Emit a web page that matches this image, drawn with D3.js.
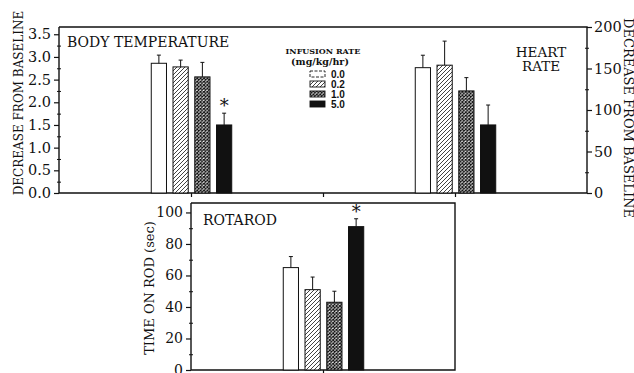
<!DOCTYPE html>
<html>
<head>
<meta charset="utf-8">
<script src="https://cdn.jsdelivr.net/npm/d3@7"></script>
<style>
  body { margin: 0; background: #fff; }
  svg { display: block; }
  text { fill: #111; }
</style>
</head>
<body>
<div id="chart"></div>
<script>
// infusion rates (mg/kg/hr)
const rates = ["0.0", "0.2", "1.0", "5.0"];

// body temperature, decrease from baseline
const tempMeans = [2.86, 2.78, 2.56, 1.50];
const tempSem = [0.18, 0.15, 0.32, 0.26];
const tempSig = [false, false, false, true];

// heart rate, decrease from baseline
const heartMeans = [151, 154, 123, 82];
const heartSem = [15, 29, 16, 24];
const heartSig = [false, false, false, false];

// rotarod, time on rod (sec)
const rotarodMeans = [65, 51, 43, 91];
const rotarodSem = [7, 8, 7, 5];
const rotarodSig = [false, false, false, true];

const tempTicks = [0, 0.5, 1, 1.5, 2, 2.5, 3, 3.5];
const heartTicks = [0, 50, 100, 150, 200];
const rotarodTicks = [0, 20, 40, 60, 80, 100];

const width = 634, height = 373;
const ink = "#111";

const svg = d3.select("#chart").append("svg")
  .attr("width", width)
  .attr("height", height);

// patterns for the bar fills
const defs = svg.append("defs");
const hatch = defs.append("pattern")
  .attr("id", "hatch").attr("patternUnits", "userSpaceOnUse")
  .attr("width", 4).attr("height", 4);
hatch.append("rect").attr("width", 4).attr("height", 4).attr("fill", "#fff");
hatch.append("path").attr("d", "M-1,1 l2,-2 M0,4 l4,-4 M3,5 l2,-2")
  .attr("stroke", ink).attr("stroke-width", 0.8);

const cross = defs.append("pattern")
  .attr("id", "cross").attr("patternUnits", "userSpaceOnUse")
  .attr("width", 3.4).attr("height", 3.4);
cross.append("rect").attr("width", 3.4).attr("height", 3.4).attr("fill", "#fff");
cross.append("path").attr("d", "M0,0 L3.4,3.4 M3.4,0 L0,3.4")
  .attr("stroke", ink).attr("stroke-width", 1.1);

const fills = {"0.0": "#fff", "0.2": "url(#hatch)", "1.0": "url(#cross)", "5.0": ink};

// shared x layout: 4 divisions across the top panel
const x = d3.scaleLinear().domain([0, 4]).range([59, 587]);
const inner = d3.scaleBand().domain(rates).range([-43, 44]).paddingInner(0.3).paddingOuter(0.15);

// y scales
const yTemp = d3.scaleLinear().domain([0, 3.66]).range([193, 27]);
const yHeart = d3.scaleLinear().domain([0, 200]).range([193, 27]);
const yRot = d3.scaleLinear().domain([0, 106]).range([370, 203]);

function drawBars(g, center, means, sem, sig, y) {
  const data = rates.map((r, i) => ({rate: r, mean: means[i], sem: sem[i], sig: sig[i]}));
  const grp = g.append("g");
  grp.selectAll("rect.bar").data(data).join("rect")
    .attr("class", "bar")
    .attr("x", d => x(center) + inner(d.rate))
    .attr("y", d => y(d.mean))
    .attr("width", inner.bandwidth())
    .attr("height", d => y(0) - y(d.mean))
    .attr("fill", d => fills[d.rate])
    .attr("stroke", ink)
    .attr("stroke-width", 1);
  // error bars (upper half only)
  grp.selectAll("path.err").data(data).join("path")
    .attr("class", "err")
    .attr("d", d => {
      const cx = x(center) + inner(d.rate) + inner.bandwidth() / 2;
      return `M${cx},${y(d.mean)}V${y(d.mean + d.sem)}M${cx - 2},${y(d.mean + d.sem)}H${cx + 2}`;
    })
    .attr("stroke", ink).attr("stroke-width", 1).attr("fill", "none");
  grp.selectAll("text.sig").data(data.filter(d => d.sig)).join("text")
    .attr("class", "sig")
    .attr("x", d => x(center) + inner(d.rate) + inner.bandwidth() / 2)
    .attr("y", d => y(d.mean + d.sem) - 1)
    .attr("text-anchor", "middle")
    .style("font-family", "DejaVu Serif").style("font-size", "18px")
    .text("*");
}

function styleAxis(a, size) {
  a.select(".domain").remove();
  a.selectAll("line").attr("stroke", ink).attr("stroke-width", 1.2);
  a.selectAll("text").style("font-family", "DejaVu Serif").style("font-size", size).attr("fill", ink);
}

// ---------- top panel ----------
const topPanel = svg.append("g");

// frame
topPanel.append("path")
  .attr("d", `M${x(0)},${yTemp.range()[1]}V${yTemp(0)}H${x(4)}V${yHeart.range()[1]}H${x(0)}`)
  .attr("fill", "none").attr("stroke", ink).attr("stroke-width", 1.4);

// left axis
const leftAx = topPanel.append("g").attr("transform", `translate(${x(0)},0)`)
  .call(d3.axisLeft(yTemp).tickValues(tempTicks).tickFormat(d3.format(".1f")).tickSize(5).tickPadding(3));
styleAxis(leftAx, "14.5px");
topPanel.append("g").attr("transform", `translate(${x(0)},0)`)
  .call(d3.axisLeft(yTemp).tickValues(tempTicks.slice(0, -1).map(d => d + 0.25)).tickFormat("").tickSize(2))
  .call(a => { a.select(".domain").remove(); a.selectAll("line").attr("stroke", ink).attr("x2", 2).attr("x1", -2); });

// right axis
const rightAx = topPanel.append("g").attr("transform", `translate(${x(4)},0)`)
  .call(d3.axisRight(yHeart).tickValues(heartTicks).tickSize(5).tickPadding(2));
styleAxis(rightAx, "14.5px");
topPanel.append("g").attr("transform", `translate(${x(4)},0)`)
  .call(d3.axisRight(yHeart).tickValues([25, 75, 125, 175]).tickFormat("").tickSize(2))
  .call(a => { a.select(".domain").remove(); a.selectAll("line").attr("stroke", ink).attr("x1", -2).attr("x2", 2); });

// bottom x ticks
topPanel.append("g").attr("transform", `translate(0,${yTemp(0)})`)
  .call(d3.axisBottom(x).tickValues([1, 2, 3]).tickFormat("").tickSize(4))
  .call(a => { a.select(".domain").remove(); a.selectAll("line").attr("stroke", ink).attr("stroke-width", 1.2); });

drawBars(topPanel, 1, tempMeans, tempSem, tempSig, yTemp);
drawBars(topPanel, 3, heartMeans, heartSem, heartSig, yHeart);

topPanel.append("text").attr("x", 67).attr("y", 47)
  .style("font-family", "DejaVu Serif").style("font-size", "14px")
  .text("BODY TEMPERATURE");
const hr = topPanel.append("text").attr("text-anchor", "middle")
  .style("font-family", "DejaVu Serif").style("font-size", "13.5px");
hr.append("tspan").attr("x", 541).attr("y", 57).text("HEART");
hr.append("tspan").attr("x", 541).attr("y", 71).text("RATE");

topPanel.append("text")
  .attr("transform", "translate(23,103) rotate(-90)")
  .attr("text-anchor", "middle")
  .style("font-family", "DejaVu Serif").style("font-size", "12px")
  .text("DECREASE FROM BASELINE");
topPanel.append("text")
  .attr("transform", "translate(624,118) rotate(90)")
  .attr("text-anchor", "middle")
  .style("font-family", "DejaVu Serif").style("font-size", "13px")
  .text("DECREASE FROM BASELINE");

// legend
const leg = topPanel.append("g");
leg.append("text").attr("x", 323).attr("y", 54).attr("text-anchor", "middle")
  .style("font-family", "DejaVu Serif").style("font-size", "8px").style("font-weight", "bold")
  .text("INFUSION RATE");
leg.append("text").attr("x", 320).attr("y", 65).attr("text-anchor", "middle")
  .style("font-family", "DejaVu Serif").style("font-size", "9.5px").style("font-weight", "bold")
  .text("(mg/kg/hr)");
const legRow = d3.scaleBand().domain(rates).range([71, 111]);
const rows = leg.selectAll("g.row").data(rates).join("g").attr("class", "row")
  .attr("transform", d => `translate(310,${legRow(d)})`);
rows.append("rect").attr("width", 15).attr("height", 6)
  .attr("fill", d => fills[d]).attr("stroke", ink).attr("stroke-width", 0.9)
  .attr("stroke-dasharray", d => d === "0.0" ? "3,1.5" : null);
rows.append("text").attr("x", 21).attr("y", 6.5)
  .style("font-family", "Liberation Sans").style("font-size", "10px").style("font-weight", "bold")
  .text(d => d);

// ---------- bottom panel ----------
const botPanel = svg.append("g");
botPanel.append("path")
  .attr("d", `M${x(1)},${yRot.range()[1]}V${yRot(0)}H${x(3)}V${yRot.range()[1]}H${x(1)}`)
  .attr("fill", "none").attr("stroke", ink).attr("stroke-width", 1.4);

const rotAx = botPanel.append("g").attr("transform", `translate(${x(1)},0)`)
  .call(d3.axisLeft(yRot).tickValues(rotarodTicks).tickSize(5).tickPadding(3));
styleAxis(rotAx, "14px");
botPanel.append("g").attr("transform", `translate(${x(1)},0)`)
  .call(d3.axisLeft(yRot).tickValues([10, 30, 50, 70, 90]).tickFormat("").tickSize(2))
  .call(a => { a.select(".domain").remove(); a.selectAll("line").attr("stroke", ink).attr("x1", -2).attr("x2", 2); });
botPanel.append("g").attr("transform", `translate(0,${yRot(0)})`)
  .call(d3.axisBottom(x).tickValues([2]).tickFormat("").tickSize(4))
  .call(a => { a.select(".domain").remove(); a.selectAll("line").attr("stroke", ink).attr("stroke-width", 1.2); });

drawBars(botPanel, 2, rotarodMeans, rotarodSem, rotarodSig, yRot);

botPanel.append("text").attr("x", 203).attr("y", 225)
  .style("font-family", "DejaVu Serif").style("font-size", "14px")
  .text("ROTAROD");
botPanel.append("text")
  .attr("transform", "translate(154,288) rotate(-90)")
  .attr("text-anchor", "middle")
  .style("font-family", "DejaVu Serif").style("font-size", "13px")
  .text("TIME ON ROD (sec)");
</script>
</body>
</html>
